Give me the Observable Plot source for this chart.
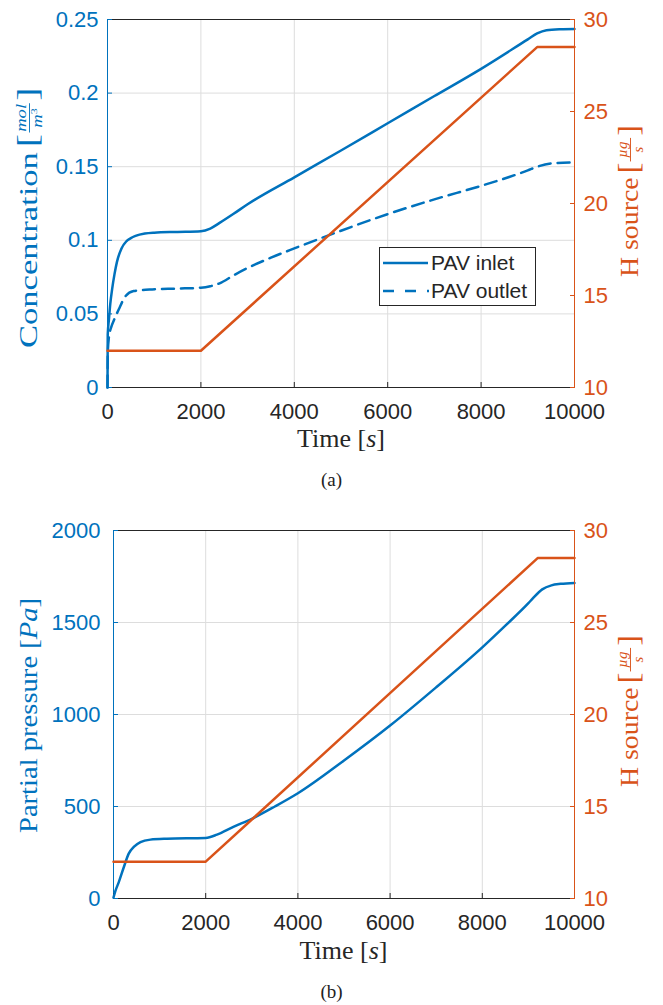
<!DOCTYPE html>
<html>
<head>
<meta charset="utf-8">
<script src="https://cdn.jsdelivr.net/npm/d3@7"></script>
<script src="https://cdn.jsdelivr.net/npm/@observablehq/plot@0.6"></script>
<style>
  html, body { margin: 0; padding: 0; background: #fff; }
  body { position: relative; width: 663px; height: 1005px; overflow: hidden; }
  .panel { position: absolute; left: 0; width: 663px; height: 460px; }
  .panel svg { position: absolute; left: 0; top: 0; }
  .caption { position: absolute; left: 0; width: 663px; text-align: center;
             font-family: "Liberation Serif", "Times New Roman", serif; font-size: 19px;
             line-height: 22px; color: #222; }
</style>
</head>
<body>
<div id="panelA" class="panel" style="top:0px"></div>
<div class="caption" style="top:469px">(a)</div>
<div id="panelB" class="panel" style="top:511px"></div>
<div class="caption" style="top:981px">(b)</div>
<script>
const BLUE = "#0072BD";
const ORANGE = "#D95319";
const INK = "#262626";
const GRID = "#dddddd";
const SANS = "'Liberation Sans', Arial, Helvetica, sans-serif";
const SERIF = "'Liberation Serif', 'Times New Roman', serif";

// Shared time axis [s]
const timeTicks = [0, 2000, 4000, 6000, 8000, 10000];

// (a) concentration at the PAV inlet and outlet [mol/m^3]
const concTicks = [0, 0.05, 0.1, 0.15, 0.2, 0.25];
const inletTime = [0, 5, 30, 60, 100, 150, 200, 300, 400, 500, 600, 800, 1000, 1500, 2000, 2200, 2400, 2700, 3000, 4000, 5000, 6000, 7000, 8000, 9000, 9200, 9400, 9700, 10000];
const inletConc = [0, 0.036, 0.046, 0.057, 0.067, 0.077, 0.085, 0.0945, 0.0992, 0.1015, 0.103, 0.1046, 0.1052, 0.1057, 0.1062, 0.108, 0.1118, 0.118, 0.1245, 0.1428, 0.161, 0.1795, 0.198, 0.2165, 0.2365, 0.2405, 0.2427, 0.2434, 0.2436];
const outletTime = [0, 8, 30, 80, 135, 240, 385, 560, 900, 1500, 2000, 2200, 2400, 2700, 3000, 3500, 4000, 5000, 6000, 7000, 8000, 8600, 9000, 9200, 9500, 10000];
const outletConc = [0, 0.025, 0.034, 0.041, 0.0455, 0.053, 0.062, 0.0655, 0.0665, 0.0672, 0.0678, 0.0688, 0.0708, 0.0762, 0.0812, 0.0882, 0.0945, 0.1065, 0.1178, 0.1278, 0.137, 0.143, 0.1475, 0.15, 0.1522, 0.153];

// H source rate [ug/s], right-hand axis of both panels
const sourceTicks = [10, 15, 20, 25, 30];
const sourceTime = [0, 2000, 9200, 10000];
const sourceRate = [12, 12, 28.5, 28.5];

// (b) partial pressure [Pa]
const pressureTicks = [0, 500, 1000, 1500, 2000];
const pressureTime = [0, 40, 115, 225, 330, 440, 585, 800, 1160, 2000, 2245, 2600, 3000, 3500, 4000, 5000, 6000, 7000, 8000, 8500, 9000, 9100, 9300, 9500, 9700, 10000];
const pressure = [5, 40, 89, 171, 244, 280, 307, 320, 325, 329, 347, 389, 433, 500, 572, 750, 940, 1148, 1365, 1483, 1605, 1632, 1680, 1702, 1710, 1715];

const zip = (xs, ys) => xs.map((x, i) => ({x, y: ys[i]}));
const trimNum = d => String(+d.toFixed(2));

const W = 663, H = 460, MT = 19, MB = 73, MR = 89;

function basePlot({marginLeft, domain, ticks, tickFormat, tickPadding, lines}) {
  return Plot.plot({
    width: W, height: H,
    marginTop: MT, marginBottom: MB, marginLeft, marginRight: MR,
    style: {fontFamily: SANS, fontSize: "22px", background: "white", color: INK, overflow: "visible"},
    x: {domain: [0, 10000]},
    y: {domain},
    marks: [
      Plot.gridX(timeTicks, {stroke: GRID, strokeOpacity: 1}),
      Plot.gridY(ticks, {stroke: GRID, strokeOpacity: 1}),
      Plot.frame({stroke: INK, strokeWidth: 1}),
      Plot.ruleX([0], {stroke: BLUE, strokeWidth: 1}),
      Plot.axisX(timeTicks, {tickSize: -5, tickPadding: 21, tickFormat: d => String(d), label: null, color: INK}),
      Plot.axisY(ticks, {anchor: "left", tickSize: -5, tickPadding, tickFormat, label: null, color: BLUE}),
      ...lines
    ]
  });
}

function sourcePlot({marginLeft}) {
  return Plot.plot({
    width: W, height: H,
    marginTop: MT, marginBottom: MB, marginLeft, marginRight: MR,
    style: {fontFamily: SANS, fontSize: "22px", background: "transparent", color: INK, overflow: "visible"},
    x: {domain: [0, 10000], axis: null},
    y: {domain: [10, 30]},
    marks: [
      Plot.ruleX([10000], {stroke: ORANGE, strokeWidth: 1}),
      Plot.axisY(sourceTicks, {anchor: "right", tickSize: -5, tickPadding: 14, label: null, color: ORANGE}),
      Plot.line(zip(sourceTime, sourceRate), {x: "x", y: "y", stroke: ORANGE, strokeWidth: 2.5})
    ]
  });
}

// rotated label group reading bottom-to-top; (x, y) is the baseline start
function rotatedGroup(svg, x, y, stretch, color) {
  return d3.select(svg).append("g")
    .attr("transform", `translate(${x},${y}) rotate(-90) scale(${stretch},1)`)
    .attr("fill", color).attr("font-family", SERIF).attr("text-anchor", "start");
}

function txt(g, s, x, y, size, extra = {}) {
  const t = g.append("text").attr("x", x).attr("y", y).attr("font-size", size).text(s);
  for (const k in extra) t.attr(k, extra[k]);
  return t;
}

// "[ num / den ]" stacked fraction in a rotated label
function fraction(g, x0, num, den, color, supText) {
  const w = 22;
  txt(g, "[", x0, 0, 30);
  const cx = x0 + 11 + w / 2;
  txt(g, num, cx, -11, 14, {"font-style": "italic", "text-anchor": "middle"});
  g.append("line").attr("x1", cx - w / 2).attr("x2", cx + w / 2).attr("y1", -7.5).attr("y2", -7.5)
    .attr("stroke", color).attr("stroke-width", 0.9);
  const d = txt(g, den, cx, 5, 14, {"font-style": "italic", "text-anchor": "middle"});
  if (supText) d.append("tspan").attr("font-size", 9).attr("dy", -5).attr("font-style", "normal").text(supText);
  txt(g, "]", cx + w / 2 + 2, 0, 30);
}

function timeLabel(svg, cx, baseline) {
  const t = d3.select(svg).append("text")
    .attr("x", cx).attr("y", baseline).attr("text-anchor", "middle")
    .attr("font-family", SERIF).attr("font-size", 26).attr("fill", INK);
  t.append("tspan").text("Time [");
  t.append("tspan").attr("font-style", "italic").text("s");
  t.append("tspan").text("]");
}

function sourceLabel(svg, y) {
  const g = rotatedGroup(svg, 638, y, 1.07, ORANGE);
  txt(g, "H source", 0, 0, 26);
  fraction(g, 97, "µg", "s", ORANGE, null);
}

// ---------- panel (a)
const baseA = basePlot({
  marginLeft: 107, domain: [0, 0.25], ticks: concTicks, tickFormat: trimNum, tickPadding: 14,
  lines: [
    Plot.line(zip(inletTime, inletConc), {x: "x", y: "y", stroke: BLUE, strokeWidth: 2.5, curve: "monotone-x"}),
    Plot.line(zip(outletTime, outletConc), {x: "x", y: "y", stroke: BLUE, strokeWidth: 2.5, curve: "monotone-x", strokeDasharray: "12,7"})
  ]
});
const overA = sourcePlot({marginLeft: 107});
document.getElementById("panelA").append(baseA, overA);

{
  const g = rotatedGroup(baseA, 37, 348, 1.33, BLUE);
  txt(g, "Concentration", 0, 0, 26);
  fraction(g, 151, "mol", "m", BLUE, "3");
  timeLabel(baseA, 341, 447);
  sourceLabel(overA, 277);

  // legend
  const lg = d3.select(overA).append("g").attr("font-family", SANS).attr("font-size", 21)
    .attr("fill", INK).attr("text-anchor", "start");
  lg.append("rect").attr("x", 379.5).attr("y", 247.5).attr("width", 156).attr("height", 58)
    .attr("fill", "white").attr("stroke", INK).attr("stroke-width", 1);
  lg.append("line").attr("x1", 383).attr("x2", 428).attr("y1", 263).attr("y2", 263)
    .attr("stroke", BLUE).attr("stroke-width", 2.5);
  lg.append("line").attr("x1", 383).attr("x2", 429).attr("y1", 291).attr("y2", 291)
    .attr("stroke", BLUE).attr("stroke-width", 2.5).attr("stroke-dasharray", "11,11");
  lg.append("text").attr("x", 431).attr("y", 270).text("PAV inlet");
  lg.append("text").attr("x", 431).attr("y", 298).text("PAV outlet");
}

// ---------- panel (b)
const baseB = basePlot({
  marginLeft: 113, domain: [0, 2000], ticks: pressureTicks, tickFormat: d => String(d), tickPadding: 18,
  lines: [
    Plot.line(zip(pressureTime, pressure), {x: "x", y: "y", stroke: BLUE, strokeWidth: 2.5, curve: "monotone-x"})
  ]
});
const overB = sourcePlot({marginLeft: 113});
document.getElementById("panelB").append(baseB, overB);

{
  const g = rotatedGroup(baseB, 37, 322, 1.1, BLUE);
  const t = txt(g, "Partial pressure [", 0, 0, 26);
  t.append("tspan").attr("font-style", "italic").text("Pa");
  t.append("tspan").text("]");
  timeLabel(baseB, 343.5, 448);
  sourceLabel(overB, 276);
}
</script>
</body>
</html>
